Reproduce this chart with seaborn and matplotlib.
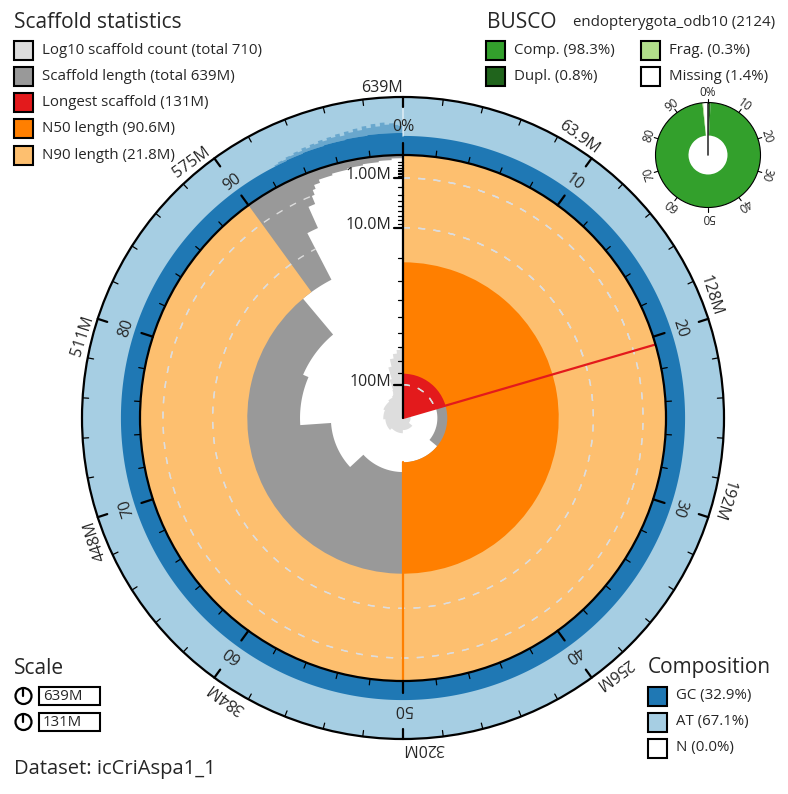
import numpy as np
import matplotlib
matplotlib.use("Agg")
import matplotlib.pyplot as plt
from matplotlib.patches import Wedge, Polygon, Rectangle, Circle
import seaborn as sns

sns.set_theme(style="white")
plt.rcParams["font.family"] = ["Open Sans", "DejaVu Sans"]

# ---- values ----
dataset = "icCriAspa1_1"
total_mb = 639.3
scaffold_total = 710
longest_mb = 131.0
n50_mb = 90.6
n90_mb = 21.8

# size-ordered scaffolds: start of each step (% of assembly), length (Mb), running count
step_pct = [0.0, 20.5, 36.0, 50.2, 63.1, 73.9, 81.5, 88.9, 92.4, 93.3, 93.8,
            94.0, 94.2, 94.6, 95.5, 96.5, 97.5, 98.5, 99.3]
step_len_mb = [131.0, 99.0, 90.6, 82.7, 69.0, 48.5, 45.0, 21.8, 5.7, 1.9, 1.0,
               0.6, 0.35, 0.20, 0.14, 0.10, 0.07, 0.045, 0.02]
step_count = [1, 2, 3, 4, 5, 6, 7, 8, 9, 10, 11, 12, 15, 40, 120, 240, 360,
              500, 640]

# base composition (share of the ring), flat until the short-scaffold tail
gc_share = 0.329
at_share = 0.671
n_share = 0.0
gc_tail_pct = [92.5, 92.75, 93.0, 93.25, 93.5, 93.75, 94.0, 94.25, 94.5, 94.75,
               95.0, 95.25, 95.5, 95.75, 96.0, 96.25, 96.5, 96.75, 97.0, 97.25,
               97.5, 97.75, 98.0, 98.25, 98.5, 98.75, 99.0, 99.25, 99.5, 99.75,
               100.0]
gc_tail_mean = [0.33, 0.33, 0.33, 0.34, 0.34, 0.34, 0.34, 0.35, 0.35, 0.35,
                0.35, 0.35, 0.36, 0.36, 0.36, 0.36, 0.36, 0.37, 0.37, 0.37,
                0.37, 0.37, 0.38, 0.38, 0.38, 0.38, 0.38, 0.38, 0.38, 0.38]
gc_tail_high = [0.35, 0.37, 0.36, 0.39, 0.38, 0.41, 0.39, 0.43, 0.40, 0.44,
                0.42, 0.46, 0.43, 0.47, 0.45, 0.49, 0.44, 0.50, 0.47, 0.52,
                0.48, 0.54, 0.50, 0.56, 0.51, 0.57, 0.53, 0.55, 0.52, 0.50]

busco_lineage = "endopterygota_odb10"
busco_total = 2124
busco_names = ["Comp.", "Dupl.", "Frag.", "Missing"]
busco_pct = [98.3, 0.8, 0.3, 1.4]

axis_major_mb = [1, 10, 100]
axis_minor_mb = [0.1, 0.2, 0.3, 0.4, 0.5, 0.6, 0.7, 0.8, 0.9,
                 2, 3, 4, 5, 6, 7, 8, 9,
                 20, 30, 40, 50, 60, 70, 80, 90]

paired = sns.color_palette("Paired").as_hex()
AT_COL, GC_COL = paired[0], paired[1]
FRAG_COL, COMP_COL = paired[2], paired[3]
RED, N90_COL, N50_COL = paired[5], paired[6], paired[7]
DUPL_COL = "#20641c"
GREY, LIGHT = "#999999", "#dddddd"

# ---- geometry (pixels) ----
CX, CY = 403, 418
R_IN, R_OUT = 263, 321
COUNT_K = 25.3


def pos(theta, r, c=(CX, CY)):
    t = np.radians(theta)
    return c[0] + r * np.sin(t), c[1] - r * np.cos(t)


def arc(t0, t1, r, c=(CX, CY)):
    n = max(2, int(abs(t1 - t0) * 2) + 1)
    return [pos(t, r, c) for t in np.linspace(t0, t1, n)]


def len_radius(mb):
    return R_IN * (1 - np.sqrt(mb / longest_mb))


def wedge(t0, t1, r, width=None, c=(CX, CY), **kw):
    return Wedge(c, r, t0 - 90, t1 - 90, width=width, **kw)


def fmt_mb(v):
    if v >= 100:
        return f"{v:.0f}M"
    if v >= 10:
        return f"{v:.1f}M"
    return f"{v:.2f}M"


fig = plt.figure(figsize=(7.88, 7.94), dpi=100)
ax = fig.add_axes([0, 0, 1, 1])
ax.set_xlim(0, 788)
ax.set_ylim(794, 0)
ax.axis("off")

# ---- main snail plot ----
t_start = [p * 3.6 for p in step_pct]
t_end = t_start[1:] + [360.0]

pts = arc(0, 360, R_IN)
for i in reversed(range(len(step_pct))):
    pts += arc(t_end[i], t_start[i], len_radius(step_len_mb[i]))
grey = Polygon(pts, closed=True, fc=GREY, lw=0)
ax.add_patch(grey)

pts = [(CX, CY)]
for i in range(len(step_pct)):
    pts += arc(t_start[i], t_end[i], COUNT_K * np.log10(step_count[i]))
ax.add_patch(Polygon(pts, closed=True, fc=LIGHT, lw=0))

t_long = longest_mb / total_mb * 360
red = wedge(0, t_long, R_IN, fc=RED, lw=0)
n50 = wedge(0, 180, R_IN, width=R_IN - len_radius(n50_mb), fc=N50_COL, lw=0)
n90 = wedge(0, 324, R_IN, width=R_IN - len_radius(n90_mb), fc=N90_COL, lw=0)
for p in (red, n50, n90):
    ax.add_patch(p)

# dashed scale lines for 1M / 10M / 100M
for clip in (grey, red, n90):
    for v in axis_major_mb:
        c = Circle((CX, CY), len_radius(v), fill=False, ec=LIGHT, lw=1,
                   ls=(0, (5, 6)), zorder=3)
        ax.add_patch(c)
        c.set_clip_path(clip)

x0, y0 = pos(t_long, 0)
x1, y1 = pos(t_long, R_IN)
ax.plot([x0, x1], [y0, y1], color=RED, lw=1.6, zorder=4)
x0, y0 = pos(180, len_radius(n50_mb))
x1, y1 = pos(180, R_IN)
ax.plot([x0, x1], [y0, y1], color=N50_COL, lw=1.6, zorder=4)

# radial length axis
ax.plot([CX, CX], [CY - R_IN, CY], color="black", lw=1.6, zorder=5)
for v in axis_minor_mb:
    y = CY - len_radius(v)
    ax.plot([CX - 5, CX], [y, y], color="black", lw=0.9, zorder=5)
for v in axis_major_mb:
    y = CY - len_radius(v)
    ax.plot([CX - 9, CX], [y, y], color="black", lw=1.6, zorder=5)
    ax.text(CX - 12, y + 1, fmt_mb(v), ha="right", va="baseline",
            fontsize=11.5, zorder=5)

# ---- composition ring ----
ax.add_patch(wedge(0, 360, R_OUT, width=R_OUT - R_IN, fc=AT_COL, lw=0, zorder=6))
g_edges = [0.0] + [p * 3.6 for p in gc_tail_pct]
g_vals = [gc_share] + gc_tail_mean
pts = arc(0, 360, R_IN)
for i in reversed(range(len(g_vals))):
    pts += arc(g_edges[i + 1], g_edges[i], R_IN + g_vals[i] * (R_OUT - R_IN))
ax.add_patch(Polygon(pts, closed=True, fc=GC_COL, lw=0, zorder=6))

pts = []
for i in range(len(gc_tail_high)):
    pts += arc(g_edges[i + 1], g_edges[i + 2], R_IN + gc_tail_high[i] * (R_OUT - R_IN))
for i in reversed(range(len(gc_tail_mean))):
    pts += arc(g_edges[i + 2], g_edges[i + 1], R_IN + gc_tail_mean[i] * (R_OUT - R_IN))
ax.add_patch(Polygon(pts, closed=True, fc=GC_COL, alpha=0.45, lw=0, zorder=6))

# pale seam where the last bin meets the first
a = pos(0, R_IN + gc_share * (R_OUT - R_IN))
b = pos(0, R_OUT)
ax.plot([a[0], b[0]], [a[1], b[1]], color="white", alpha=0.6, lw=1.2, zorder=6)

for r in (R_IN, R_OUT):
    ax.add_patch(Circle((CX, CY), r, fill=False, ec="black", lw=1.6, zorder=7))

for p in range(0, 100, 2):
    th = p * 3.6
    major = p % 10 == 0
    a = pos(th, R_IN)
    b = pos(th, R_IN + (12 if major else 6))
    ax.plot([a[0], b[0]], [a[1], b[1]], color="black",
            lw=1.6 if major else 0.9, zorder=7)
    a = pos(th, R_OUT)
    b = pos(th, R_OUT - (10 if major else 6))
    ax.plot([a[0], b[0]], [a[1], b[1]], color="black",
            lw=1.6 if major else 0.9, zorder=7)
    if major:
        lx, ly = pos(th, 291)
        ax.text(lx, ly, "0%" if p == 0 else str(p), ha="center", va="center",
                rotation=-th, rotation_mode="anchor", fontsize=11.5, zorder=7)
        lx, ly = pos(th, R_OUT + 1.5)
        val = total_mb if p == 0 else total_mb * p / 100
        ax.text(lx, ly, fmt_mb(val), ha="right", va="bottom", rotation=-th,
                rotation_mode="anchor", fontsize=11.5, zorder=7)

# ---- BUSCO donut ----
BC = (708, 155)
BR, BW = 52.5, 33
comp, dupl, frag, miss = busco_pct
segs = [(0, dupl, DUPL_COL), (dupl, comp, COMP_COL),
        (comp, comp + frag, FRAG_COL), (comp + frag, 100, "white")]
for s0, s1, col in segs:
    ax.add_patch(wedge(s0 * 3.6, s1 * 3.6, BR, width=BW, c=BC, fc=col, lw=0))
ax.add_patch(Circle(BC, BR, fill=False, ec="black", lw=0.8))
ax.plot([BC[0], BC[0]], [BC[1], BC[1] - BR], color="#333333", lw=1.2)
for p in range(0, 100, 10):
    th = p * 3.6
    a = pos(th, BR, BC)
    b = pos(th, BR + 4, BC)
    ax.plot([a[0], b[0]], [a[1], b[1]], color="black", lw=0.8)
    lx, ly = pos(th, 62, BC)
    ax.text(lx, ly, "0%" if p == 0 else str(p), ha="center", va="center",
            rotation=-th, rotation_mode="anchor", fontsize=8.5)


# ---- legends ----
def box(x, y, col, label):
    ax.add_patch(Rectangle((x, y - 9.5), 19, 19, fc=col, ec="black", lw=1.5))
    ax.text(x + 28, y, label, ha="left", va="center", fontsize=10.8)


ax.text(14, 22, "Scaffold statistics", ha="left", va="center", fontsize=15)
stats_rows = [
    (LIGHT, f"Log10 scaffold count (total {scaffold_total})"),
    (GREY, f"Scaffold length (total {total_mb:.0f}M)"),
    (RED, f"Longest scaffold ({longest_mb:.0f}M)"),
    (N50_COL, f"N50 length ({n50_mb}M)"),
    (N90_COL, f"N90 length ({n90_mb}M)"),
]
for k, (col, lab) in enumerate(stats_rows):
    box(14, 50 + k * 26.3, col, lab)

ax.text(487, 22, "BUSCO", ha="left", va="center", fontsize=15)
ax.text(573, 22, f"{busco_lineage} ({busco_total})", ha="left", va="center",
        fontsize=10.8)
busco_cols = [COMP_COL, DUPL_COL, FRAG_COL, "white"]
busco_xy = [(486, 50), (486, 76), (641, 50), (641, 76)]
for name, v, col, (bx, by) in zip(busco_names, busco_pct, busco_cols, busco_xy):
    box(bx, by, col, f"{name} ({v}%)")

ax.text(648, 668, "Composition", ha="left", va="center", fontsize=15)
comp_rows = [(GC_COL, f"GC ({gc_share * 100:.1f}%)"),
             (AT_COL, f"AT ({at_share * 100:.1f}%)"),
             ("white", f"N ({n_share * 100:.1f}%)")]
for k, (col, lab) in enumerate(comp_rows):
    box(648, 696 + k * 26, col, lab)

ax.text(14, 668, "Scale", ha="left", va="center", fontsize=15)
for k, v in enumerate([total_mb, longest_mb]):
    y = 696 + k * 26
    ax.add_patch(Circle((23.5, y), 8, fill=False, ec="black", lw=1.6))
    ax.plot([23.5, 23.5], [y, y - 8], color="black", lw=1.6)
    ax.add_patch(Rectangle((39, y - 9), 61, 18, fill=False, ec="black", lw=1.5))
    ax.text(43, y, f"{v:.0f}M", ha="left", va="center", fontsize=10.8)

ax.text(14, 769, f"Dataset: {dataset}", ha="left", va="center", fontsize=14.5)

fig.savefig("out.png", dpi=100, facecolor="white")
